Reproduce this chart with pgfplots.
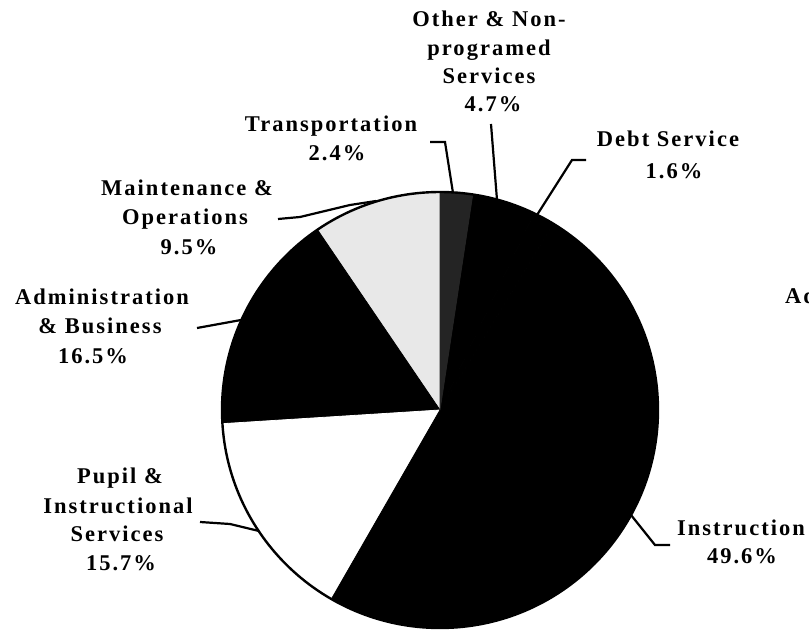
\documentclass[border=0pt]{standalone}
\usepackage{fontspec}
\usepackage{pgfplots}
\usepackage{pgfplotstable}
\pgfplotsset{compat=1.18}
\newfontfamily\labfont{Liberation Serif}[LetterSpace=9]

% slice shares in percent, counter-clockwise from the top
\pgfplotstableread{
pct style
9.5 0
16.5 1
15.7 2
49.6 1
1.6 1
4.7 1
2.4 3
}\piedata

\tikzset{
  slice0/.style={fill=black!9, draw=black!9},
  slice1/.style={fill=black, draw=black},
  slice2/.style={fill=white, draw=white},
  slice3/.style={fill=black!86, draw=black!86},
  lab/.style={font=\labfont\bfseries\fontsize{22.5}{30}\selectfont, anchor=base, inner sep=0pt},
}

\begin{document}
\begin{tikzpicture}
\useasboundingbox (0,0) rectangle (809pt,630pt);
\clip (0,0) rectangle (809pt,630pt);
\begin{axis}[
  hide axis, scale only axis,
  width=809pt, height=630pt,
  xmin=0, xmax=809, ymin=0, ymax=630,
  clip=false,
]
\def\acc{90}
\pgfplotsforeachungrouped \i in {0,...,6}{
  \pgfplotstablegetelem{\i}{pct}\of\piedata \let\p\pgfplotsretval
  \pgfplotstablegetelem{\i}{style}\of\piedata \let\s\pgfplotsretval
  \pgfmathsetmacro\e{\acc+3.6*\p}
  \edef\temp{\noexpand\filldraw[slice\s, line width=0.8pt, line join=round] (axis cs:440,220) -- ([shift={(\acc:218pt)}]axis cs:440,220) arc[start angle=\acc, end angle=\e, radius=218pt] -- cycle;}
  \temp
  \let\acc\e
}
\draw[line width=2.4pt] (axis cs:440,220) circle[radius=218pt];

% leader lines
\addplot[black, line width=2.2pt, no markers] coordinates {(537,415) (572,470) (586,470)};
\addplot[black, line width=2.2pt, no markers] coordinates {(497,430) (491,506)};
\addplot[black, line width=2.2pt, no markers] coordinates {(453,437) (445,488) (430,488)};
\addplot[black, line width=2.2pt, no markers] coordinates {(278,411) (300,413) (350,425) (376,429)};
\addplot[black, line width=2.2pt, no markers] coordinates {(197,302) (241,310)};
\addplot[black, line width=2.2pt, no markers] coordinates {(200,108) (230,106) (259,99)};
\addplot[black, line width=2.2pt, no markers] coordinates {(631,115) (655,85) (670,85)};

% labels (base lines)
\node[lab] at (axis cs:489,603) {Other \& Non-};
\node[lab] at (axis cs:489,574) {programed};
\node[lab] at (axis cs:489,546) {Services};
\node[lab] at (axis cs:493,518) {4.7\%};
\node[lab] at (axis cs:331,498) {Transportation};
\node[lab] at (axis cs:337,469) {2.4\%};
\node[lab] at (axis cs:668,483) {Debt Service};
\node[lab] at (axis cs:674,451) {1.6\%};
\node[lab] at (axis cs:187,434) {Maintenance \&};
\node[lab] at (axis cs:185,405) {Operations};
\node[lab] at (axis cs:189,375) {9.5\%};
\node[lab] at (axis cs:102,325) {Administration};
\node[lab] at (axis cs:100,296) {\& Business};
\node[lab] at (axis cs:93,266) {16.5\%};
\node[lab] at (axis cs:120,147) {Pupil \&};
\node[lab] at (axis cs:118,117) {Instructional};
\node[lab] at (axis cs:117,89) {Services};
\node[lab] at (axis cs:121,60) {15.7\%};
\node[lab] at (axis cs:741,95) {Instruction};
\node[lab] at (axis cs:742,67) {49.6\%};
\node[lab, anchor=base west] at (axis cs:785,326) {Administration};
\end{axis}
\end{tikzpicture}
\end{document}
